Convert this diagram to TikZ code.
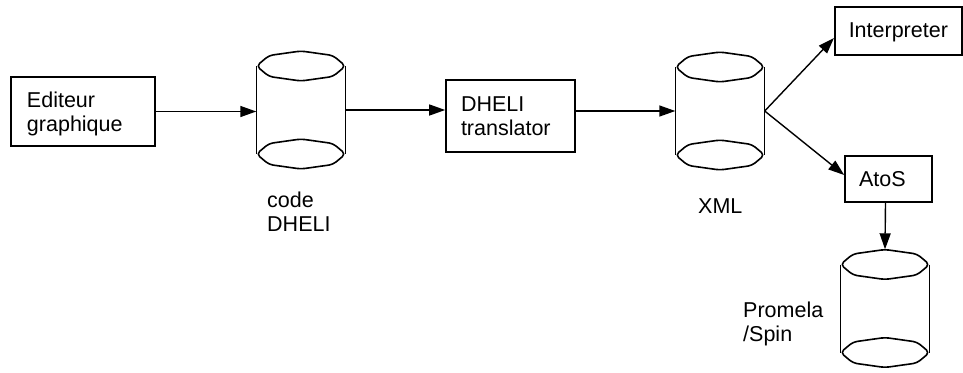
\documentclass[tikz,border=0pt]{standalone}
\usepackage{fontspec}
\setmainfont{Liberation Sans}
\usetikzlibrary{arrows.meta,calc}
\newcommand\drawcyl[1]{%
  \draw[cylline,shift={(#1.center)}] (-44.5,-44) -- (-44.5,44) (44.5,-44) -- (44.5,44);
  \draw[cylline,shift={(#1.center)},rounded corners=4pt]
    (-44.5,-44) -- (-32,-54.5) -- (0,-59) -- (32,-54.5) -- (44.5,-44)
    -- (32,-33.5) -- (0,-29) -- (-32,-33.5) -- cycle;
  \draw[cylline,shift={(#1.center)},rounded corners=4pt]
    (-44.5,44) -- (-32,33.5) -- (0,29) -- (32,33.5) -- (44.5,44)
    -- (32,54.5) -- (0,59) -- (-32,54.5) -- cycle;
}
\begin{document}
\begin{tikzpicture}[x=1pt,y=-1pt,
  lbl/.style={font=\fontsize{21.5}{24}\selectfont},
  box/.style={draw,line width=1.6pt,lbl,inner ysep=0pt,align=left},
  cylnode/.style={inner sep=0pt,minimum width=89pt,minimum height=118pt},
  cylline/.style={line width=1.6pt,line join=round},
  arr/.style={line width=1.4pt,-{Triangle[length=16pt,width=11pt]}},
]
\useasboundingbox (0,0) rectangle (963,372);

% boxes
\node[box,minimum width=144pt,minimum height=69pt,text width=112pt,inner xsep=16pt] (ed) at (83,111.5) {Editeur\\\smash{graphique}};
\node[box,minimum width=129pt,minimum height=72pt,text width=99pt,inner xsep=15pt] (dh) at (510.5,116) {DHELI\\translator};
\node[box,minimum width=127pt,minimum height=48pt,text width=99.5pt,inner xsep=14pt,text height=15.4pt,text depth=1.5pt] (int) at (898.5,31) {Interpreter};
\node[box,minimum width=87pt,minimum height=46pt,text width=59pt,inner xsep=14pt] (ato) at (888.5,179) {AtoS};

% cylinders
\node[cylnode] (c1) at (301,110) {};
\node[cylnode] (c2) at (720,111) {};
\node[cylnode] (c3) at (885,308.5) {};
\drawcyl{c1}
\drawcyl{c2}
\drawcyl{c3}

% labels
\node[lbl,align=left,anchor=north west,inner sep=0pt] (l1) at (267,191.6) {code\\DHELI};
\node[lbl,anchor=base west,inner sep=0pt] (l2) at (698,213) {XML};
\node[lbl,align=left,anchor=north west,inner sep=0pt] (l3) at (743,301.6) {Promela\\/Spin};

% connectors
\draw[arr] (ed.east) -- (ed.east -| c1.west);
\draw[arr] (c1.east) -- (c1.east -| dh.west);
\draw[arr] (dh.east |- c2.west) -- (c2.west);
\draw[arr] (c2.east) -- ([yshift=-7pt]int.west);
\draw[arr] (c2.east) -- ([yshift=4pt]ato.west);
\draw[arr] ([xshift=-3pt]ato.south) -- (c3.north);
\end{tikzpicture}
\end{document}
